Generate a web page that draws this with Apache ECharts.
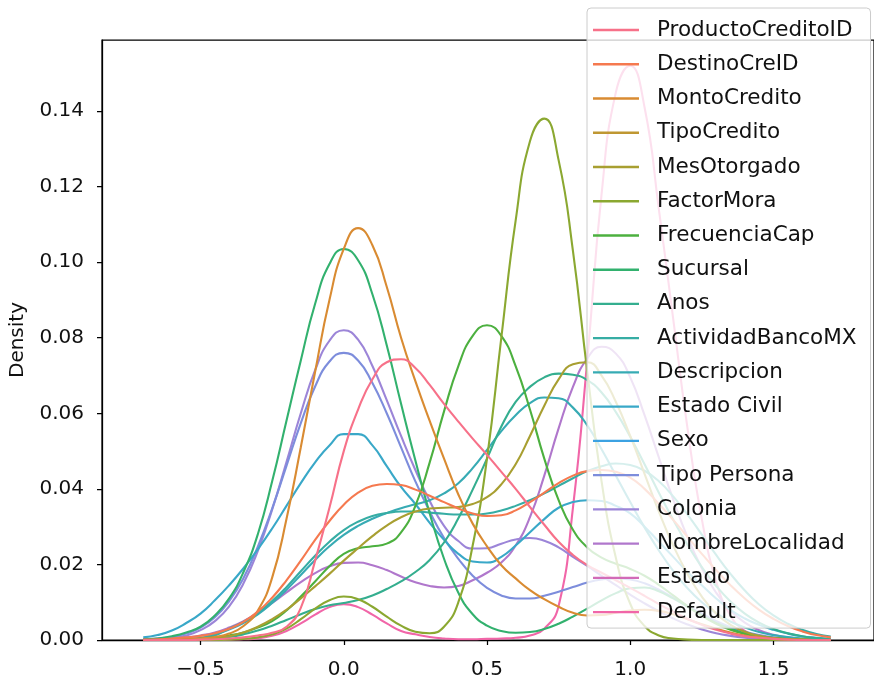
<!DOCTYPE html>
<html>
<head>
<meta charset="utf-8">
<script src="https://cdn.jsdelivr.net/npm/echarts@6/dist/echarts.min.js"></script>
<style>
  html, body { margin: 0; padding: 0; background: #fff; }
  #main { width: 874px; height: 682px; }
</style>
</head>
<body>
<div id="main"></div>
<script>
// x grid shared by every density curve (-0.7 .. 1.7, step 0.05)
var xs = [-0.7,-0.65,-0.6,-0.55,-0.5,-0.45,-0.4,-0.35,-0.3,-0.25,-0.2,-0.15,-0.1,-0.05,0,0.05,0.1,0.15,0.2,0.25,0.3,0.35,0.4,0.45,0.5,0.55,0.6,0.65,0.7,0.75,0.8,0.85,0.9,0.95,1,1.05,1.1,1.15,1.2,1.25,1.3,1.35,1.4,1.45,1.5,1.55,1.6,1.65,1.7];

var names = ['ProductoCreditoID','DestinoCreID','MontoCredito','TipoCredito','MesOtorgado','FactorMora','FrecuenciaCap','Sucursal','Anos','ActividadBancoMX','Descripcion','Estado Civil','Sexo','Tipo Persona','Colonia','NombreLocalidad','Estado','Default'];
var colors = ['#f77189','#f5794f','#d98b32','#bf9732','#a89f31','#8ba831','#4cb03f','#32b16e','#34ae8f','#36ada4','#37abb4','#39a8c8','#3ca2e2','#7d8ddc','#9c85d8','#b077cc','#d26bb8','#f166a8'];

var productoCreditoID = [0,0,0,0,0.0001,0.0002,0.0004,0.0007,0.0012,0.0019,0.0035,0.0085,0.021,0.035,0.050,0.061,0.069,0.0735,0.0743,0.072,0.0675,0.0625,0.0578,0.0533,0.049,0.0445,0.040,0.0352,0.0305,0.026,0.0225,0.0198,0.0178,0.0158,0.0138,0.0117,0.0095,0.0075,0.0056,0.004,0.0027,0.0017,0.001,0.0006,0.0003,0.0001,0,0,0];
var destinoCreID = [0.0001,0.0002,0.0004,0.0007,0.0011,0.0018,0.003,0.0048,0.0075,0.0112,0.0158,0.021,0.0265,0.0315,0.0358,0.039,0.0408,0.0413,0.041,0.0398,0.0382,0.0365,0.0348,0.0335,0.0328,0.033,0.0343,0.0365,0.039,0.0415,0.0435,0.0447,0.045,0.0445,0.043,0.040,0.036,0.0318,0.0273,0.0228,0.0185,0.0145,0.011,0.008,0.0056,0.0037,0.0023,0.0013,0.0007];
var montoCredito = [0,0,0.0001,0.0002,0.0004,0.0008,0.0017,0.0037,0.0078,0.0165,0.032,0.051,0.071,0.090,0.1035,0.109,0.1045,0.0935,0.080,0.0685,0.058,0.048,0.0385,0.0308,0.0248,0.0198,0.0163,0.0132,0.0108,0.0088,0.0072,0.0065,0.0066,0.0072,0.0078,0.008,0.0077,0.0068,0.0055,0.0042,0.003,0.002,0.0012,0.0007,0.0004,0.0002,0.0001,0,0];
var tipoCredito = [];
var mesOtorgado = [0,0,0,0.0001,0.0002,0.0005,0.001,0.002,0.0035,0.0055,0.008,0.011,0.0142,0.0175,0.021,0.0243,0.0275,0.0303,0.0325,0.034,0.0348,0.035,0.0352,0.036,0.0378,0.0412,0.0465,0.054,0.062,0.069,0.073,0.0735,0.070,0.063,0.054,0.044,0.034,0.025,0.0175,0.0115,0.007,0.004,0.0022,0.0011,0.0005,0.0002,0.0001,0,0];
var factorMora = [0,0,0,0,0,0,0.0001,0.0003,0.0007,0.0015,0.003,0.0055,0.0083,0.0105,0.0115,0.0108,0.0088,0.0062,0.0038,0.0022,0.0018,0.0035,0.010,0.025,0.048,0.080,0.111,0.132,0.138,0.127,0.103,0.071,0.042,0.0217,0.0096,0.0037,0.0012,0.0004,0.0001,0,0,0,0,0,0,0,0,0,0];
var frecuenciaCap = [0,0.0001,0.0001,0.0002,0.0004,0.0007,0.0012,0.002,0.0033,0.005,0.0078,0.0115,0.0155,0.0195,0.0228,0.0243,0.0248,0.0255,0.0285,0.0355,0.047,0.0605,0.0725,0.0805,0.0833,0.0805,0.0725,0.061,0.048,0.037,0.0292,0.0245,0.0218,0.0202,0.0188,0.017,0.0146,0.0118,0.009,0.0064,0.0043,0.0027,0.0016,0.0009,0.0005,0.0002,0.0001,0,0];
var sucursal = [0.0002,0.0004,0.001,0.002,0.0035,0.0065,0.011,0.018,0.028,0.042,0.058,0.074,0.089,0.0995,0.1035,0.1005,0.0915,0.078,0.0625,0.0475,0.0335,0.0215,0.0125,0.0068,0.0038,0.0024,0.0019,0.0021,0.0029,0.0043,0.0062,0.0083,0.0105,0.0124,0.0137,0.0139,0.0129,0.011,0.0088,0.0065,0.0045,0.003,0.0018,0.001,0.0006,0.0003,0.0001,0,0];
var anos = [0,0,0,0.0001,0.0002,0.0004,0.0008,0.0015,0.0025,0.0038,0.0053,0.0068,0.0082,0.0092,0.0098,0.0106,0.0118,0.0135,0.0155,0.018,0.0212,0.0258,0.0322,0.0398,0.048,0.0565,0.063,0.067,0.0695,0.0705,0.0702,0.0688,0.0655,0.0603,0.0538,0.0465,0.039,0.0318,0.0252,0.0193,0.0143,0.0102,0.007,0.0046,0.0029,0.0018,0.001,0.0005,0.0002];
var actividadBancoMX = [0,0,0.0001,0.0002,0.0005,0.0012,0.003,0.0048,0.0072,0.0103,0.014,0.0182,0.0223,0.026,0.0291,0.0313,0.0328,0.0336,0.034,0.034,0.0337,0.0334,0.0332,0.0332,0.0335,0.0343,0.0355,0.037,0.0388,0.0408,0.0428,0.0447,0.046,0.0467,0.0463,0.0448,0.042,0.038,0.0332,0.0279,0.0225,0.0175,0.0131,0.0094,0.0065,0.0043,0.0027,0.0016,0.0009];
var descripcion = [0,0,0.0001,0.0002,0.0005,0.0016,0.0028,0.0045,0.0068,0.0098,0.0133,0.0172,0.0212,0.0248,0.0278,0.0302,0.0321,0.0336,0.0349,0.0359,0.037,0.0388,0.0415,0.0455,0.0503,0.0553,0.0595,0.0627,0.0642,0.064,0.0615,0.0568,0.0505,0.0435,0.0365,0.0298,0.0237,0.0183,0.0137,0.010,0.0071,0.0049,0.0033,0.0021,0.0013,0.0008,0.0004,0.0002,0.0001];
var estadoCivil = [0.0007,0.0013,0.0025,0.0045,0.007,0.0105,0.0145,0.019,0.024,0.0295,0.0355,0.0415,0.047,0.0515,0.0545,0.0545,0.0515,0.046,0.0405,0.036,0.031,0.0265,0.0228,0.0208,0.0205,0.022,0.025,0.0285,0.032,0.035,0.0365,0.037,0.0368,0.0355,0.0335,0.030,0.026,0.022,0.018,0.0145,0.011,0.008,0.0057,0.004,0.0027,0.0017,0.001,0.0006,0.0003];
var sexo = [];
var tipoPersona = [0.0002,0.0004,0.0008,0.0017,0.0033,0.006,0.0103,0.0164,0.0247,0.0348,0.0461,0.0574,0.0671,0.0737,0.076,0.074,0.068,0.060,0.051,0.042,0.034,0.027,0.0215,0.017,0.0138,0.0118,0.011,0.011,0.0117,0.0128,0.014,0.0152,0.016,0.0163,0.016,0.015,0.0133,0.0112,0.009,0.007,0.005,0.0034,0.0022,0.0013,0.0007,0.0004,0.0002,0.0001,0];
var colonia = [0.0001,0.0003,0.0006,0.0012,0.0026,0.005,0.0089,0.015,0.0236,0.0345,0.0471,0.060,0.0714,0.0792,0.082,0.0795,0.0725,0.0635,0.054,0.045,0.0368,0.0302,0.0262,0.0242,0.0243,0.0255,0.0266,0.027,0.0263,0.0245,0.022,0.0196,0.017,0.0145,0.012,0.0097,0.0076,0.0057,0.0041,0.0028,0.0018,0.0011,0.0006,0.0003,0.0002,0.0001,0,0,0];
var nombreLocalidad = [0.0001,0.0002,0.0004,0.0007,0.0012,0.002,0.0033,0.005,0.0072,0.0098,0.0126,0.0153,0.0177,0.0195,0.0204,0.0205,0.0198,0.0185,0.0168,0.0153,0.0143,0.0139,0.0143,0.0158,0.0178,0.0205,0.025,0.0325,0.0435,0.056,0.067,0.0745,0.0776,0.0758,0.0695,0.0595,0.0483,0.0372,0.0272,0.019,0.0125,0.0078,0.0046,0.0026,0.0014,0.0007,0.0003,0.0001,0];
var estado = [];
var defaultCurve = [0,0,0,0,0,0,0.0001,0.0002,0.0004,0.0011,0.0024,0.0044,0.0067,0.0087,0.0095,0.0087,0.0067,0.0044,0.0024,0.0015,0.0008,0.0004,0.0002,0.0002,0.0003,0.0004,0.0006,0.0012,0.003,0.009,0.035,0.074,0.118,0.145,0.152,0.141,0.114,0.085,0.056,0.032,0.0155,0.0065,0.0024,0.0008,0.0002,0,0,0,0];

var values = [productoCreditoID, destinoCreID, montoCredito, tipoCredito, mesOtorgado, factorMora, frecuenciaCap, sucursal, anos, actividadBancoMX, descripcion, estadoCivil, sexo, tipoPersona, colonia, nombreLocalidad, estado, defaultCurve];

var xTicks = [-0.5, 0, 0.5, 1, 1.5];
var yTicks = [0, 0.02, 0.04, 0.06, 0.08, 0.10, 0.12, 0.14];

var font = 'DejaVu Sans';

// first hue level drawn last (on top), like seaborn
var series = [];
for (var k = names.length - 1; k >= 0; k--) {
	series.push({
		name: names[k],
		type: 'line',
		symbol: 'none',
		smooth: true,
		data: values[k].map(function (v, i) { return [xs[i], v]; }),
		lineStyle: { width: 2.1, color: colors[k] },
		itemStyle: { color: colors[k] },
		emphasis: { disabled: true }
	});
}

var chart = echarts.init(document.getElementById('main'));

var option = {
	animation: false,
	backgroundColor: '#fff',
	grid: {
		left: 102,
		top: 40,
		width: 779,
		height: 600,
		show: true,
		borderColor: '#000',
		borderWidth: 1.25,
		backgroundColor: 'transparent'
	},
	legend: {
		data: names,
		orient: 'vertical',
		left: 587,
		top: 8,
		padding: [10, 14, 4, 6],
		itemGap: 10.24,
		itemWidth: 46,
		itemHeight: 24,
		icon: 'path://M0,0 L46,0 L46,2.4 L0,2.4 Z',
		backgroundColor: 'rgba(255,255,255,0.8)',
		borderColor: '#cccccc',
		borderWidth: 1,
		borderRadius: 4,
		textStyle: {
			fontFamily: font,
			fontSize: 21.5,
			color: '#111',
			lineHeight: 24,
			padding: [0, 0, 0, 13]
		}
	},
	xAxis: {
		type: 'value',
		min: -0.844,
		max: 1.851,
		splitLine: { show: false },
		axisLine: { onZero: false, lineStyle: { color: '#000', width: 1.25 } },
		axisTick: { customValues: xTicks, length: 5, lineStyle: { color: '#000', width: 1.25 } },
		axisLabel: {
			customValues: xTicks,
			fontFamily: font,
			fontSize: 20,
			color: '#111',
			margin: 20,
			formatter: function (v) { return v.toFixed(1).replace('-', '\u2212'); }
		}
	},
	yAxis: {
		type: 'value',
		min: 0,
		max: 0.1588,
		name: 'Density',
		nameLocation: 'middle',
		nameGap: 74,
		nameTextStyle: { fontFamily: font, fontSize: 20, color: '#111' },
		splitLine: { show: false },
		axisLine: { show: true, onZero: false, lineStyle: { color: '#000', width: 1.25 } },
		axisTick: { show: true, customValues: yTicks, length: 5, lineStyle: { color: '#000', width: 1.25 } },
		axisLabel: {
			customValues: yTicks,
			fontFamily: font,
			fontSize: 20,
			color: '#111',
			margin: 18,
			formatter: function (v) { return v.toFixed(2); }
		}
	},
	series: series
};

chart.setOption(option);
</script>
</body>
</html>
